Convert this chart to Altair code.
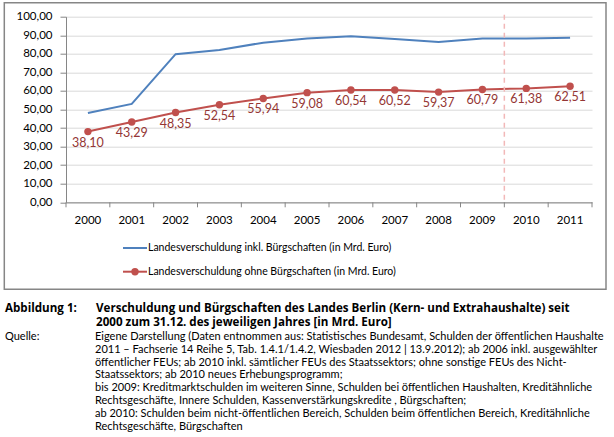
import altair as alt
import pandas as pd

years = ["2000", "2001", "2002", "2003", "2004", "2005", "2006", "2007", "2008", "2009", "2010", "2011"]
inkl = [48.1, 53.0, 79.8, 82.1, 86.0, 88.2, 89.5, 88.0, 86.4, 88.2, 88.2, 88.7]
ohne = [38.10, 43.29, 48.35, 52.54, 55.94, 59.08, 60.54, 60.52, 59.37, 60.79, 61.38, 62.51]
series = ["Landesverschuldung inkl. Bürgschaften (in Mrd. Euro)",
          "Landesverschuldung ohne Bürgschaften (in Mrd. Euro)"]
colors = ["#4f81bd", "#c0504d"]
break_year = "2010"
y_ticks = [0, 10, 20, 30, 40, 50, 60, 70, 80, 90, 100]

title_label = "Abbildung 1:"
title_lines = [
    "Verschuldung und Bürgschaften des Landes Berlin (Kern- und Extrahaushalte) seit",
    "2000 zum 31.12. des jeweiligen Jahres [in Mrd. Euro]",
]
source_label = "Quelle:"
source_lines = [
    "Eigene Darstellung (Daten entnommen aus: Statistisches Bundesamt, Schulden der öffentlichen Haushalte",
    "2011 – Fachserie 14 Reihe 5, Tab. 1.4.1/1.4.2,  Wiesbaden 2012 |  13.9.2012);  ab 2006 inkl. ausgewählter",
    "öffentlicher FEUs; ab 2010 inkl.  sämtlicher FEUs des Staatssektors; ohne sonstige FEUs  des Nicht-",
    "Staatssektors; ab 2010 neues Erhebungsprogramm;",
    "bis 2009:  Kreditmarktschulden im weiteren Sinne, Schulden bei  öffentlichen Haushalten, Kreditähnliche",
    "Rechtsgeschäfte, Innere Schulden, Kassenverstärkungskredite , Bürgschaften;",
    "ab 2010:  Schulden beim nicht-öffentlichen Bereich, Schulden beim öffentlichen Bereich, Kreditähnliche",
    "Rechtsgeschäfte, Bürgschaften",
]

FONT = "Lato"
TFONT = "Open Sans"
W, H = 526, 185.6
PL, PT = 66, 16.7

df_inkl = pd.DataFrame({"year": years, "value": inkl})
df_ohne = pd.DataFrame({"year": years, "value": ohne})
df_years = pd.DataFrame({"year": years})

xscale = alt.Scale(type="band", domain=years, paddingInner=0, paddingOuter=0)
yscale = alt.Scale(domain=[0, 100], nice=False, zero=True)

xaxis = alt.Axis(title=None, ticks=False, labelPadding=12,
                 labelFontSize=11.5, labelColor="#000000", labelFont=FONT,
                 domainColor="#868686", grid=False, labelAngle=0, labelAlign="center")
yaxis = alt.Axis(title=None, values=y_ticks, tickSize=6, labelPadding=8, labelOverlap=False,
                 labelExpr="replace(format(datum.value, '.2f'), '.', ',')",
                 labelFontSize=11.5, labelColor="#000000", labelFont=FONT,
                 domainColor="#868686", tickColor="#868686",
                 grid=True, gridColor="#d9d9d9", gridWidth=1)

X = alt.X("year:O", scale=xscale, axis=xaxis)
Y = alt.Y("value:Q", scale=yscale, axis=yaxis)

# x-axis ticks at category boundaries
xticks = alt.Chart(df_years).mark_rule(color="#868686", strokeWidth=1).encode(
    x=alt.X("year:O", scale=xscale, axis=xaxis, bandPosition=0), y=alt.value(H), y2=alt.value(H + 5))
xtick_end = alt.Chart(pd.DataFrame({"year": [years[-1]]})).mark_rule(color="#868686", strokeWidth=1).encode(
    x=alt.X("year:O", scale=xscale, axis=xaxis, bandPosition=1), y=alt.value(H), y2=alt.value(H + 5))

line_inkl = alt.Chart(df_inkl).mark_line(color=colors[0], strokeWidth=2).encode(x=X, y=Y)
line_ohne = alt.Chart(df_ohne).mark_line(color=colors[1], strokeWidth=2).encode(x=X, y=Y)
pts_ohne = alt.Chart(df_ohne).mark_point(filled=True, color=colors[1], size=55, opacity=1).encode(x=X, y=Y)
lbl_ohne = alt.Chart(df_ohne).transform_calculate(
    lbl="replace(format(datum.value, '.2f'), '.', ',')"
).mark_text(dy=11, fontSize=12.5, font=FONT, color="#943634", baseline="middle").encode(
    x=X, y=Y, text="lbl:N")

rule_df = pd.DataFrame({"year": [break_year]})
vrule = alt.Chart(rule_df).mark_rule(color="#f2b8b8", strokeDash=[5, 4], strokeWidth=1.5).encode(
    x=alt.X("year:O", scale=xscale, axis=xaxis, bandPosition=0), y=alt.value(-2), y2=alt.value(H))

# chart frame
frame = alt.Chart(pd.DataFrame({"a": [0]})).mark_rect(fill=None, stroke="#868686", strokeWidth=1.5).encode(
    x=alt.value(4.3 - PL), x2=alt.value(606 - PL), y=alt.value(2.7 - PT), y2=alt.value(289.3 - PT))

# legend
leg_layers = []
leg_y = [248 - PT, 271.7 - PT]
for i in range(2):
    d = pd.DataFrame({"name": [series[i]]})
    leg_layers.append(alt.Chart(d).mark_rule(color=colors[i], strokeWidth=2).encode(
        x=alt.value(123 - PL), x2=alt.value(147 - PL), y=alt.value(leg_y[i])))
    leg_layers.append(alt.Chart(d).mark_text(align="left", baseline="middle", fontSize=10.5,
                                             font=FONT, color="#000000").encode(
        x=alt.value(148 - PL), y=alt.value(leg_y[i]), text="name:N"))
leg_layers.append(alt.Chart(pd.DataFrame({"name": [series[1]]})).mark_point(
    filled=True, color=colors[1], size=55, opacity=1).encode(
    x=alt.value(135 - PL), y=alt.value(leg_y[1])))

# caption
cap = []
def txt(s, x, y, bold=False, size=11, font=FONT):
    return alt.Chart(pd.DataFrame({"t": [s]})).mark_text(
        align="left", baseline="middle", fontSize=size, font=font,
        fontWeight="bold" if bold else "normal", color="#000000").encode(
        x=alt.value(x - PL), y=alt.value(y - PT), text="t:N")

cap.append(txt(title_label, 5, 308.5, bold=True, size=11.6, font=TFONT))
for i, s in enumerate(title_lines):
    cap.append(txt(s, 96, 308.5 + 14 * i, bold=True, size=11.6, font=TFONT))
cap.append(txt(source_label, 5, 337))
for i, s in enumerate(source_lines):
    cap.append(txt(s, 95, 337 + 12.8 * i))

chart = alt.layer(
    line_inkl, line_ohne, pts_ohne, lbl_ohne, xticks, xtick_end, vrule, frame, *leg_layers, *cap
).properties(
    width=W, height=H,
    autosize=alt.AutoSizeParams(type="none"),
    padding={"left": PL, "top": PT, "right": 614 - PL - W, "bottom": 437 - PT - H},
    background="#ffffff",
).configure_view(stroke=None)

chart.save("out.html", embed_options={"renderer": "svg", "actions": False})
